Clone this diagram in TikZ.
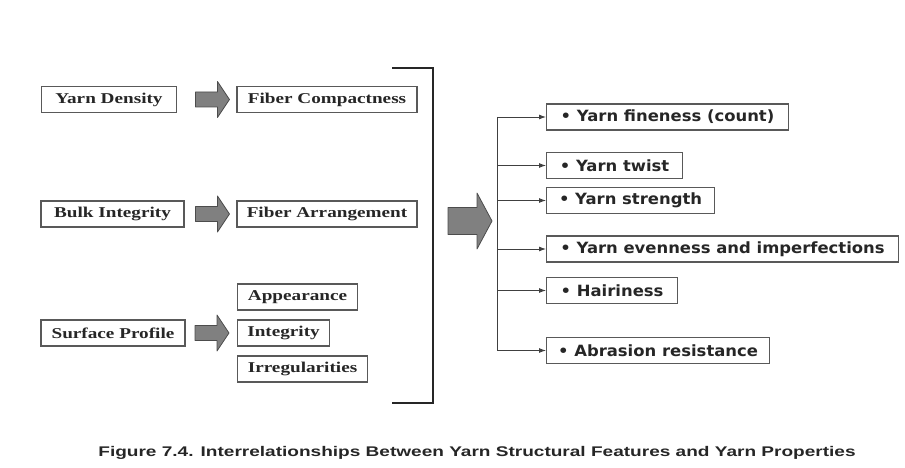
\documentclass[tikz,border=0pt]{standalone}
\usepackage{fontspec}
\setmainfont{Liberation Serif}
\newfontfamily\boxfont{Liberation Serif}[FakeStretch=1.28]
\newfontfamily\listfont{DejaVu Sans}[FakeStretch=1.06]
\newfontfamily\capfont{Liberation Sans}[FakeStretch=1.36]
\usepackage{tikz}
\usetikzlibrary{positioning,arrows.meta}

\begin{document}
\begin{tikzpicture}[y=-1pt,x=1pt,
	lbox/.style={draw=black!65, line width=1.1pt, minimum height=26pt, inner sep=0pt,
		font=\boxfont\bfseries\fontsize{15}{18}\selectfont, text=black!85},
	rbox/.style={draw=black!65, line width=1.1pt, minimum height=26pt, inner xsep=9pt, inner ysep=0pt,
		anchor=west, font=\listfont\bfseries\fontsize{15.5}{18}\selectfont, text=black!85},
	fat/.style={fill=black!50, draw=black!70, line width=0.8pt, line join=round},
	link/.style={draw=black!75, line width=0.9pt},
	tip/.style={link, -{Latex[length=7pt,width=5pt]}}]
	\newcommand\SmallArrow{+(0,-7.5) -- +(22,-7.5) -- +(22,-18) -- +(34,0) -- +(22,18) -- +(22,7.5) -- +(0,7.5) -- cycle}
	\newcommand\BigArrow{+(0,-13.5) -- +(29,-13.5) -- +(29,-28) -- +(44,0) -- +(29,28) -- +(29,13.5) -- +(0,13.5) -- cycle}

	\useasboundingbox (0,0) rectangle (905,468);

	% structural features
	\node[lbox, minimum width=135pt] (dens) at (109,99.5) {Yarn Density};
	\node[lbox, minimum width=180pt] (compact) at (327,99.5) {Fiber Compactness};
	\node[lbox, minimum width=143pt] (bulk) at (112.5,214) {Bulk Integrity};
	\node[lbox, minimum width=180pt] (arrange) at (327,214) {Fiber Arrangement};
	\node[lbox, minimum width=144pt] (surface) at (113,333) {Surface Profile};
	\node[lbox, minimum width=120pt, anchor=west] (appear) at (237,297) {Appearance};
	\node[lbox, minimum width=92pt, anchor=west] (integ) at (237,333) {Integrity};
	\node[lbox, minimum width=130pt, anchor=west] (irreg) at (237,369) {Irregularities};

	\draw[fat] (compact.west) ++(-41,0) \SmallArrow;
	\draw[fat] (arrange.west) ++(-41,0) \SmallArrow;
	\draw[fat] (integ.west) ++(-42,0) \SmallArrow;

	\draw[line width=2pt, black!85] (392,68) -- (433,68) -- (433,403) -- (392,403);
	\draw[fat] (448,221) \BigArrow;

	% properties
	\node[rbox, minimum width=242pt] (fine) at (546,117) {• Yarn fineness (count)};
	\node[rbox, minimum width=136pt] (twist) at (546,165.5) {• Yarn twist};
	\node[rbox, minimum width=168pt] (strength) at (546,200.5) {• Yarn strength};
	\node[rbox, minimum width=352pt] (even) at (546,249) {• Yarn evenness and imperfections};
	\node[rbox, minimum width=131pt] (hair) at (546,290.5) {• Hairiness};
	\node[rbox, minimum width=223pt] (abr) at (546,350.5) {• Abrasion resistance};

	\coordinate (trunk) at (497,0);
	\draw[link] (trunk |- fine.west) -- (trunk |- abr.west);
	\foreach \n in {fine,twist,strength,even,hair,abr}
		\draw[tip] (trunk |- \n.west) -- (\n.west);

	\node[font=\capfont\bfseries\fontsize{14}{16}\selectfont, text=black!85] (caption) at (477,453)
		{Figure 7.4. Interrelationships Between Yarn Structural Features and Yarn Properties};
\end{tikzpicture}
\end{document}
